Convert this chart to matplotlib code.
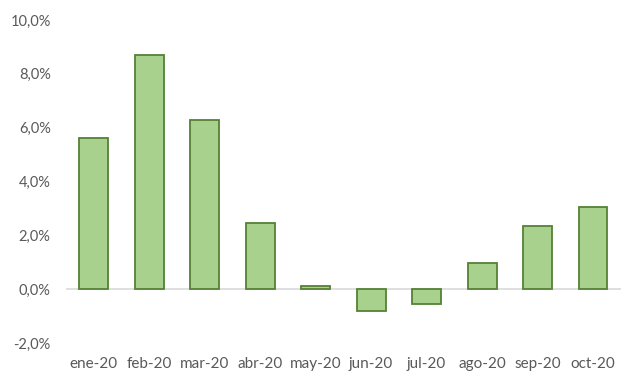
import matplotlib
matplotlib.use("Agg")
import matplotlib.pyplot as plt
from matplotlib.ticker import FuncFormatter

# Monthly values (%)
months = ["ene-20", "feb-20", "mar-20", "abr-20", "may-20",
          "jun-20", "jul-20", "ago-20", "sep-20", "oct-20"]
values = [5.6, 8.7, 6.3, 2.46, 0.12, -0.81, -0.54, 0.97, 2.36, 3.04]
y_ticks = [-2, 0, 2, 4, 6, 8, 10]

plt.rcParams["font.family"] = ["Lato", "DejaVu Sans"]

fig = plt.figure(figsize=(6.4, 3.83), dpi=100)
ax = fig.add_axes([0.103, 0.104, 0.867, 0.844])

x = range(len(months))
ax.bar(x, values, width=0.52, color="#A9D18E", edgecolor="#548235",
       linewidth=1.3, zorder=3)
ax.axhline(0, color="#D9D9D9", linewidth=1.2, zorder=2)

ax.set_xlim(-0.5, len(months) - 0.5)
ax.set_ylim(-2, 10)
ax.set_yticks(y_ticks)
ax.yaxis.set_major_formatter(FuncFormatter(lambda v, _: f"{v:.1f}%".replace(".", ",")))
ax.set_xticks(list(x))
ax.set_xticklabels(months)

for s in ax.spines.values():
    s.set_visible(False)
ax.tick_params(length=0, labelsize=10.5, colors="#595959")
ax.tick_params(axis="y", pad=11)
ax.tick_params(axis="x", pad=10, labelsize=11)

fig.savefig("out.png", dpi=100)
